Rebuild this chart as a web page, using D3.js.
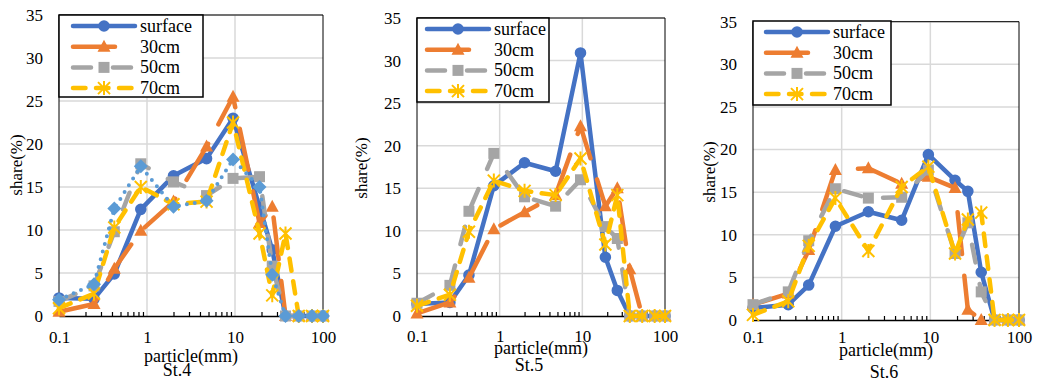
<!DOCTYPE html>
<html>
<head>
<meta charset="utf-8">
<script src="https://cdn.jsdelivr.net/npm/d3@7"></script>
<style>
  body { margin: 0; background: #fff; }
  text { font-family: 'Liberation Serif', 'Times New Roman', serif; fill: #000; }
</style>
</head>
<body>
<svg width="1040" height="384"></svg>
<script>
// sieve sizes (mm) shared by all stations
var sizes = [0.1, 0.25, 0.425, 0.85, 2, 4.75, 9.5, 19, 26.5, 37.5, 53, 75, 100];
var seriesNames = ['surface', '30cm', '50cm', '70cm'];
var yTicks = [0, 5, 10, 15, 20, 25, 30, 35];
var xTicks = [0.1, 1, 10, 100];
var xTickLabels = ['0.1', '1', '10', '100'];
var stationNames = ['St.4', 'St.5', 'St.6'];

var st4Surface = [2.1, 2.0, 4.9, 12.4, 16.3, 18.3, 23.0, 12.7, 7.7, 0, 0, 0, 0];
var st4Cm30 = [0.5, 1.4, 5.5, 9.9, 13.3, 19.7, 25.5, 10.8, 12.7, 0, 0, 0, 0];
var st4Cm50 = [1.7, 3.5, 9.8, 17.7, 15.6, 14.0, 16.0, 16.2, 5.8, 0, 0, 0, 0];
var st4Cm70 = [0.9, 2.6, 10.3, 15.0, 13.0, 13.3, 22.5, 9.6, 2.4, 9.6, 0, 0, 0];
var st4Extra = [1.9, 3.7, 12.5, 17.4, 12.7, 13.4, 18.2, 15.0, 4.8, 0, 0, 0, 0];

var st5Surface = [1.4, 1.6, 4.8, 15.3, 18.0, 17.0, 30.9, 6.9, 3.0, 0, 0, 0, 0];
var st5Cm30 = [0.3, 1.6, 4.5, 10.2, 12.2, 14.2, 22.3, 12.9, 15.0, 5.5, 0, 0, 0];
var st5Cm50 = [1.5, 3.6, 12.3, 19.1, 14.0, 12.9, 16.0, 10.5, 9.1, 0, 0, 0, 0];
var st5Cm70 = [1.2, 2.5, 9.9, 15.9, 14.7, 14.2, 18.5, 8.4, 14.2, 0, 0, 0, 0];

var st6Surface = [1.4, 1.8, 4.1, 11.0, 12.7, 11.7, 19.4, 16.4, 15.1, 5.6, 0, 0, 0];
var st6Cm30 = [1.8, 3.1, 8.2, 17.6, 17.8, 16.0, 16.8, 15.5, 1.2, 0, 0, 0, 0];
var st6Cm50 = [1.8, 3.3, 9.3, 15.4, 14.3, 14.4, 17.6, 7.8, 11.4, 3.3, 0, 0, 0];
var st6Cm70 = [0.6, 2.2, 8.7, 14.3, 8.1, 15.6, 18.0, 7.8, 11.8, 12.6, 0, 0, 0];

// line styles per series: surface, 30cm, 50cm, 70cm, extra
var styles = [
  { color: '#4472C4', dash: null, marker: 'circle' },
  { color: '#ED7D31', dash: '42,22', marker: 'triangle' },
  { color: '#A5A5A5', dash: '18,22', marker: 'square' },
  { color: '#FFC000', dash: '12.5,10.5', marker: 'star' },
  { color: '#5B9BD5', dash: '0,8', marker: 'diamond' }
];

var panels = [
  { left: 59, right: 323, top: 15, bottom: 316, series: [st4Surface, st4Cm30, st4Cm50, st4Cm70, st4Extra],
    legend: { x: 59, y: 15, w: 144, h: 82, lx: 14 }, yTitleX: 22, yTitleY: 165,
    tickY: 27, titleY: 46, stY: 60, stX: 177 },
  { left: 417, right: 665, top: 18, bottom: 316, series: [st5Surface, st5Cm30, st5Cm50, st5Cm70],
    legend: { x: 417, y: 18, w: 132, h: 84, lx: 10 }, yTitleX: 367, yTitleY: 168,
    tickY: 26, titleY: 38, stY: 55, stX: 529 },
  { left: 753, right: 1019, top: 21.7, bottom: 320, series: [st6Surface, st6Cm30, st6Cm50, st6Cm70],
    legend: { x: 753, y: 21, w: 138, h: 84, lx: 13 }, yTitleX: 715, yTitleY: 172,
    tickY: 23, titleY: 36, stY: 58, stX: 884 }
];

var svg = d3.select('svg');

function drawMarker(sel, type, color) {
  if (type === 'star') {
    sel.append('path')
      .attr('d', 'M-6,-6L6,6M-6,6L6,-6M0,-7L0,7')
      .attr('stroke', color)
      .attr('stroke-width', 2)
      .attr('fill', 'none');
    return;
  }
  var path;
  if (type === 'circle') path = d3.symbol().type(d3.symbolCircle).size(105)();
  else if (type === 'triangle') path = 'M0,-7L6.5,5L-6.5,5Z';
  else if (type === 'square') path = 'M-5.5,-5.5H5.5V5.5H-5.5Z';
  else path = 'M0,-7L7,0L0,7L-7,0Z';
  sel.append('path')
    .attr('d', path)
    .attr('fill', color);
}

panels.forEach(function(p, pi) {
  var g = svg.append('g');
  var x = d3.scaleLog().domain([0.1, 100]).range([p.left, p.right]);
  var y = d3.scaleLinear().domain([0, 35]).range([p.bottom, p.top]);

  // grid
  g.selectAll('.hgrid')
    .data(yTicks.slice(1))
    .enter().append('line')
    .attr('x1', p.left).attr('x2', p.right)
    .attr('y1', function(d) { return y(d); })
    .attr('y2', function(d) { return y(d); })
    .attr('stroke', '#d9d9d9')
    .attr('stroke-width', 1.5);

  g.selectAll('.vgrid')
    .data([1, 10])
    .enter().append('line')
    .attr('x1', function(d) { return x(d); })
    .attr('x2', function(d) { return x(d); })
    .attr('y1', p.top).attr('y2', p.bottom)
    .attr('stroke', '#d9d9d9')
    .attr('stroke-width', 1.5);

  // plot border
  g.append('path')
    .attr('d', 'M' + p.left + ',' + p.bottom + 'V' + p.top + 'H' + p.right + 'V' + p.bottom)
    .attr('fill', 'none')
    .attr('stroke', '#000')
    .attr('stroke-width', 1);

  // y axis labels
  var yAxis = d3.axisLeft(y).tickValues(yTicks).tickSize(0).tickPadding(16);
  var yg = g.append('g')
    .attr('transform', 'translate(' + p.left + ',0)')
    .call(yAxis);
  yg.select('.domain').remove();
  yg.selectAll('text')
    .attr('font-family', 'Liberation Serif')
    .attr('font-size', 17);

  // x axis: minor ticks pointing up + domain
  var minor = x.ticks().filter(function(d) { return xTicks.indexOf(d) < 0; });
  var xMinor = d3.axisBottom(x).tickValues(minor).tickSizeInner(-4).tickSizeOuter(0).tickFormat('');
  var xm = g.append('g')
    .attr('transform', 'translate(0,' + p.bottom + ')')
    .call(xMinor);
  xm.select('.domain').attr('stroke-width', 1.5);
  xm.selectAll('.tick line').attr('stroke-width', 1.2);

  var xAxis = d3.axisBottom(x).tickValues(xTicks).tickSize(0)
    .tickFormat(function(d, i) { return xTickLabels[i]; });
  var xg = g.append('g')
    .attr('transform', 'translate(0,' + p.bottom + ')')
    .call(xAxis);
  xg.select('.domain').remove();
  xg.selectAll('text')
    .attr('font-family', 'Liberation Serif')
    .attr('font-size', 17)
    .attr('y', p.tickY)
    .attr('dy', null);

  // titles
  g.append('text')
    .attr('transform', 'translate(' + p.yTitleX + ',' + p.yTitleY + ') rotate(-90)')
    .attr('text-anchor', 'middle')
    .attr('font-size', 17)
    .text('share(%)');

  g.append('text')
    .attr('x', (p.left + p.right) / 2)
    .attr('y', p.bottom + p.titleY)
    .attr('text-anchor', 'middle')
    .attr('font-size', 18)
    .text('particle(mm)');

  g.append('text')
    .attr('x', p.stX)
    .attr('y', p.bottom + p.stY)
    .attr('text-anchor', 'middle')
    .attr('font-size', 18)
    .text(stationNames[pi]);

  // series
  var line = d3.line()
    .x(function(d) { return x(d[0]); })
    .y(function(d) { return y(d[1]); });

  p.series.forEach(function(values, si) {
    var st = styles[si];
    var pts = d3.zip(sizes, values);
    g.append('path')
      .datum(pts)
      .attr('d', line)
      .attr('fill', 'none')
      .attr('stroke', st.color)
      .attr('stroke-width', si === 4 ? 4 : 4.5)
      .attr('stroke-linecap', 'round')
      .attr('stroke-linejoin', 'round')
      .attr('stroke-dasharray', st.dash);

    pts.forEach(function(d) {
      var m = g.append('g')
        .attr('transform', 'translate(' + x(d[0]) + ',' + y(d[1]) + ')');
      drawMarker(m, st.marker, st.color);
    });
  });

  // legend
  var L = p.legend;
  var lg = g.append('g');
  lg.append('rect')
    .attr('x', L.x).attr('y', L.y)
    .attr('width', L.w).attr('height', L.h)
    .attr('fill', '#fff')
    .attr('stroke', '#000')
    .attr('stroke-width', 1.5);

  seriesNames.forEach(function(name, si) {
    var st = styles[si];
    var ry = L.y + 11 + si * 20.7;
    var x0 = L.x + L.lx;
    var x1 = x0 + 62;
    lg.append('line')
      .attr('x1', x0).attr('x2', x1)
      .attr('y1', ry).attr('y2', ry)
      .attr('stroke', st.color)
      .attr('stroke-width', 4.5)
      .attr('stroke-linecap', 'round')
      .attr('stroke-dasharray', st.dash);
    var m = lg.append('g')
      .attr('transform', 'translate(' + ((x0 + x1) / 2) + ',' + ry + ')');
    drawMarker(m, st.marker, st.color);
    lg.append('text')
      .attr('x', x1 + 5)
      .attr('y', ry + 6)
      .attr('font-size', 18)
      .text(name);
  });
});
</script>
</body>
</html>
